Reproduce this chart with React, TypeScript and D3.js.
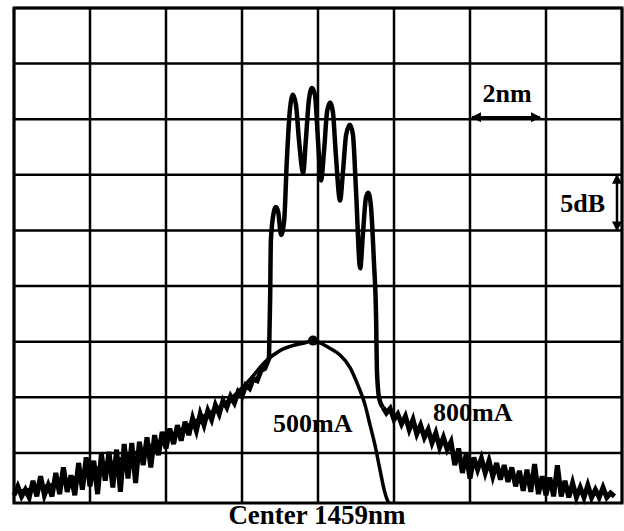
import React from 'react';
import * as d3 from 'd3';

// plot frame in pixels
const W = 624;
const H = 531;
const PLOT = { left: 14, right: 622, top: 8, bottom: 503 };

// axis: 2 nm / div around 1459 nm, 5 dB / div
const wlDomain = [1451, 1467];
const dbDomain = [-44.5, 0];
const wlGrid = [1451, 1453, 1455, 1457, 1459, 1461, 1463, 1465, 1467];
const dbGrid = [0, -5, -10, -15, -20, -25, -30, -35, -40];

// 800mA trace: noisy short-wavelength side
const wl800Left = [
  1451.0, 1451.1, 1451.2, 1451.3, 1451.4, 1451.5, 1451.6, 1451.7, 1451.8, 1451.9,
  1452.0, 1452.1, 1452.2, 1452.3, 1452.4, 1452.5, 1452.6, 1452.7, 1452.8, 1452.9,
  1453.0, 1453.1, 1453.2, 1453.3, 1453.4, 1453.5, 1453.6, 1453.7, 1453.8, 1453.9,
  1454.0, 1454.1, 1454.2, 1454.3, 1454.4, 1454.5, 1454.6, 1454.7, 1454.8, 1454.9,
  1455.0, 1455.1, 1455.2, 1455.3, 1455.4, 1455.5, 1455.6, 1455.7, 1455.8, 1455.9,
  1456.0, 1456.1, 1456.2, 1456.3, 1456.4, 1456.5, 1456.6, 1456.7, 1456.8, 1456.9,
  1457.0, 1457.1, 1457.2, 1457.3, 1457.4, 1457.5, 1457.6,
];
const db800Left = [
  -43.8, -43.0, -43.9, -43.3, -44.0, -42.5, -43.9, -42.1, -43.8, -42.9,
  -43.9, -41.8, -43.7, -41.3, -43.5, -42.0, -43.8, -40.9, -43.3, -40.4,
  -43.0, -40.7, -43.7, -40.1, -42.5, -39.9, -43.1, -39.7, -43.5, -39.2,
  -42.3, -39.1, -42.7, -39.0, -41.1, -38.6, -41.3, -38.4, -40.2, -38.1,
  -39.6, -37.8, -39.2, -37.5, -38.9, -37.2, -38.4, -36.9, -38.0, -36.5,
  -37.5, -36.2, -37.0, -35.7, -36.5, -35.3, -35.9, -34.9, -35.5, -34.5,
  -34.9, -33.9, -34.2, -33.3, -33.5, -32.6, -32.4,
];

// 800mA trace: lasing comb
const wl800Peaks = [
  1457.71, 1457.74, 1457.76, 1457.84, 1457.89, 1457.95, 1458.03, 1458.11, 1458.18, 1458.26,
  1458.34, 1458.42, 1458.50, 1458.61, 1458.68, 1458.76, 1458.84, 1458.92, 1459.00, 1459.08,
  1459.16, 1459.24, 1459.32, 1459.39, 1459.47, 1459.58, 1459.66, 1459.74, 1459.84, 1459.92,
  1460.00, 1460.11, 1460.18, 1460.26, 1460.32, 1460.39, 1460.47, 1460.53, 1460.55, 1460.61,
  1460.71,
];
const db800Peaks = [
  -31.5, -26.2, -20.9, -18.3, -17.9, -18.3, -20.4, -19.1, -13.7, -9.2,
  -7.8, -8.7, -11.9, -14.8, -11.9, -8.3, -7.2, -7.8, -11.9, -15.5,
  -12.8, -9.3, -8.5, -9.3, -13.2, -17.3, -14.6, -11.4, -10.5, -11.4,
  -16.4, -23.4, -20.4, -17.1, -16.6, -17.7, -22.7, -28.0, -32.5, -35.1,
  -35.9,
];

// 800mA trace: noisy long-wavelength tail
const wl800Tail = [
  1460.8, 1460.9, 1461.0, 1461.1, 1461.2, 1461.3, 1461.4, 1461.5, 1461.6, 1461.7,
  1461.8, 1461.9, 1462.0, 1462.1, 1462.2, 1462.3, 1462.4, 1462.5, 1462.6, 1462.7,
  1462.8, 1462.9, 1463.0, 1463.1, 1463.2, 1463.3, 1463.4, 1463.5, 1463.6, 1463.7,
  1463.8, 1463.9, 1464.0, 1464.1, 1464.2, 1464.3, 1464.4, 1464.5, 1464.6, 1464.7,
  1464.8, 1464.9, 1465.0, 1465.1, 1465.2, 1465.3, 1465.4, 1465.5, 1465.6, 1465.7,
  1465.8, 1465.9, 1466.0, 1466.1, 1466.2, 1466.3, 1466.4, 1466.5, 1466.6, 1466.7,
  1466.8,
];
const db800Tail = [
  -36.4, -36.0, -37.0, -36.5, -37.4, -36.7, -37.9, -37.0, -38.3, -37.5,
  -38.6, -37.9, -39.1, -38.2, -39.5, -38.6, -39.7, -39.0, -41.1, -39.6,
  -41.8, -40.1, -42.3, -40.4, -41.5, -40.5, -41.8, -40.7, -42.1, -40.9,
  -42.4, -41.1, -42.6, -41.3, -43.0, -41.6, -43.4, -41.5, -43.5, -41.0,
  -43.7, -42.1, -43.8, -42.2, -43.9, -41.1, -43.9, -42.5, -44.0, -42.7,
  -44.0, -43.1, -44.0, -42.9, -44.0, -43.3, -44.0, -43.1, -44.0, -43.6,
  -43.9,
];

// 500mA trace (spontaneous emission hump)
const wl500 = [
  1451.0, 1451.68, 1452.47, 1453.26, 1454.05, 1454.97, 1455.89, 1456.68, 1457.21, 1457.61,
  1458.0, 1458.39, 1458.66, 1458.87, 1459.05, 1459.32, 1459.58, 1459.84, 1460.05, 1460.24,
  1460.37, 1460.5, 1460.63, 1460.74, 1460.82, 1460.87,
];
const db500 = [
  -43.5, -43.1, -42.4, -41.3, -40.2, -38.7, -36.9, -35.2, -33.4, -31.8,
  -30.8, -30.3, -30.1, -29.9, -30.1, -30.6, -31.2, -32.3, -33.9, -35.7,
  -37.5, -39.3, -41.5, -43.3, -44.2, -44.5,
];

type Pt = [number, number];
const pair = (wl: number[], db: number[]): Pt[] => wl.map((w, i) => [w, db[i]] as Pt);

export default function App() {
  const x = d3.scaleLinear().domain(wlDomain).range([PLOT.left, PLOT.right]);
  const y = d3.scaleLinear().domain(dbDomain).range([PLOT.bottom, PLOT.top]);

  const smooth = d3.line<Pt>()
    .x((d) => x(d[0]))
    .y((d) => y(d[1]))
    .curve(d3.curveMonotoneX);
  const jagged = d3.line<Pt>()
    .x((d) => x(d[0]))
    .y((d) => y(d[1]));

  const left800 = pair(wl800Left, db800Left);
  const peaks800 = pair(wl800Peaks, db800Peaks);
  const tail800 = pair(wl800Tail, db800Tail);
  const trace500 = pair(wl500, db500);
  const peak500 = trace500[d3.maxIndex(trace500, (d) => d[1])];

  const font = '"Liberation Serif", "Times New Roman", serif';

  return (
    <svg width={W} height={H} style={{ position: 'absolute', left: 0, top: 0, background: '#fff' }}>
      <defs>
        <marker id="ah" viewBox="0 0 10 10" refX="9" refY="5" markerWidth="4" markerHeight="4" orient="auto-start-reverse">
          <path d="M0,0 L10,5 L0,10 z" fill="#000" />
        </marker>
      </defs>

      {/* grid */}
      <g stroke="#000" strokeWidth={2.5}>
        {wlGrid.map((w) => (
          <line key={`v${w}`} x1={x(w)} x2={x(w)} y1={PLOT.top} y2={PLOT.bottom} />
        ))}
        {dbGrid.map((d) => (
          <line key={`h${d}`} x1={PLOT.left} x2={PLOT.right} y1={y(d)} y2={y(d)} />
        ))}
      </g>
      <rect x={PLOT.left} y={PLOT.top} width={PLOT.right - PLOT.left} height={PLOT.bottom - PLOT.top}
        fill="none" stroke="#000" strokeWidth={3} />

      {/* traces */}
      <path d={smooth(trace500) || ''} fill="none" stroke="#000" strokeWidth={3.5} strokeLinejoin="round" />
      <path d={jagged([...left800, peaks800[0]]) || ''} fill="none" stroke="#000" strokeWidth={5} strokeLinejoin="miter" />
      <path d={smooth(peaks800) || ''} fill="none" stroke="#000" strokeWidth={4.5} strokeLinejoin="round" />
      <path d={jagged([peaks800[peaks800.length - 1], ...tail800]) || ''} fill="none" stroke="#000" strokeWidth={5} strokeLinejoin="miter" />
      <circle cx={x(peak500[0])} cy={y(peak500[1])} r={5} fill="#000" />

      {/* scale markers */}
      <line x1={x(1463) + 2} x2={x(1465) - 6} y1={y(-10) - 2} y2={y(-10) - 2}
        stroke="#000" strokeWidth={2.5} markerStart="url(#ah)" markerEnd="url(#ah)" />
      <line x1={617} x2={617} y1={y(-15)} y2={y(-20)}
        stroke="#000" strokeWidth={2.5} markerStart="url(#ah)" markerEnd="url(#ah)" />

      <g fontFamily={font} fontWeight="bold" fontSize={26} fill="#000">
        <text x={507} y={102} textAnchor="middle">2nm</text>
        <text x={605} y={212} textAnchor="end">5dB</text>
        <text x={273} y={432}>500mA</text>
        <text x={433} y={421}>800mA</text>
        <text x={317} y={524} textAnchor="middle" fontSize={27}>Center 1459nm</text>
      </g>
    </svg>
  );
}
